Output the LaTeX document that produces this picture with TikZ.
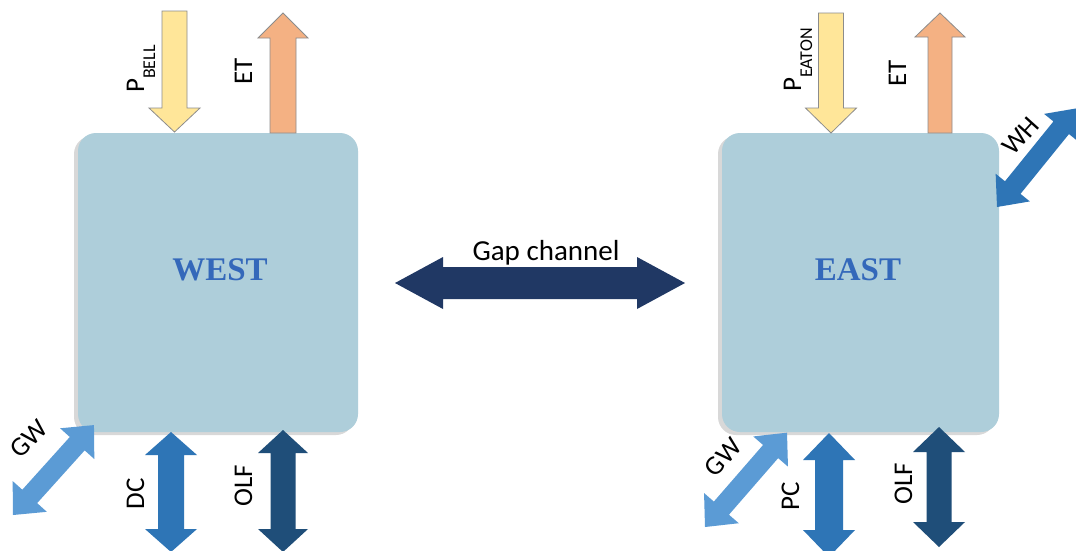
\documentclass[tikz,border=0pt]{standalone}
\usepackage{fontspec}
\setmainfont{Carlito}
\newfontfamily\boxfont{Liberation Serif}
\usetikzlibrary{shadows}
\definecolor{pyellow}{RGB}{255,230,153}
\definecolor{porange}{RGB}{244,177,131}
\definecolor{agray}{RGB}{140,140,140}
\definecolor{lblue}{RGB}{91,155,213}
\definecolor{mblue}{RGB}{46,117,182}
\definecolor{dblue}{RGB}{31,78,121}
\definecolor{navy}{RGB}{32,56,100}
\definecolor{boxfill}{RGB}{174,206,218}
\definecolor{boxtext}{RGB}{52,104,186}
% single block arrow: #1 tail point, #2 angle, #3 length, #4 shaft half width, #5 head half width, #6 head length, #7 style
\newcommand{\SArrow}[7]{\begin{scope}[shift={(#1)},rotate=#2]
\path[#7] (0,#4) -- ({#3-#6},#4) -- ({#3-#6},#5) -- (#3,0) -- ({#3-#6},-#5) -- ({#3-#6},-#4) -- (0,-#4) -- cycle;
\end{scope}}
% double block arrow: #1 first tip
\newcommand{\DArrow}[7]{\begin{scope}[shift={(#1)},rotate=#2]
\path[#7] (0,0) -- (#6,#5) -- (#6,#4) -- ({#3-#6},#4) -- ({#3-#6},#5) -- (#3,0) -- ({#3-#6},-#5) -- ({#3-#6},-#4) -- (#6,-#4) -- (#6,-#5) -- cycle;
\end{scope}}
\newcommand{\subsz}{\fontsize{18}{18}\selectfont}
\begin{document}
\begin{tikzpicture}[x=1pt,y=-1pt,
  lbl/.style={font=\fontsize{27}{32}\selectfont, inner sep=0pt},
  boxlbl/.style={font=\boxfont\bfseries\fontsize{33}{38}\selectfont, text=boxtext, inner sep=0pt},
  basin/.style={rounded corners=18pt, fill=boxfill, minimum width=280pt, minimum height=299pt, inner sep=0pt,
    drop shadow={shadow xshift=-4pt, shadow yshift=-3pt, opacity=0.3}},
  yarrow/.style={fill=pyellow, draw=agray, line width=0.8pt},
  oarrow/.style={fill=porange, draw=agray, line width=0.8pt}]
\clip (0,0) rectangle (1076,550);
\fill[white] (0,0) rectangle (1076,550);
% basins
\node[basin] (westbox) at (218,282.5) {};
\node[basin, minimum width=277pt] (eastbox) at (860.5,282.5) {};
\node[boxlbl] (westlbl) at (220,270) {WEST};
\node[boxlbl] (eastlbl) at (858,270) {EAST};
% top arrows
\SArrow{174.5,11}{-90}{121}{12.5}{25.5}{24}{yarrow}
\SArrow{283,133}{90}{120}{13}{25}{25}{oarrow}
\SArrow{831,13}{-90}{120}{12.5}{25.5}{25}{yarrow}
\SArrow{940,133}{90}{120}{12}{25}{24}{oarrow}
% gap channel
\DArrow{395,283}{0}{290}{16}{26}{48}{fill=navy}
% bottom / side arrows
\DArrow{13,515}{48}{121}{10}{23}{25}{fill=lblue}
\DArrow{171,552}{90}{120}{13}{26}{23}{fill=mblue}
\DArrow{283,552}{90}{122}{12.5}{25}{23}{fill=dblue}
\DArrow{705,527}{49}{125}{10}{23}{25}{fill=lblue}
\DArrow{829,557}{90}{124}{14}{26}{27}{fill=mblue}
\DArrow{939,547}{90}{120}{12.5}{26}{25}{fill=dblue}
\DArrow{997,207}{51}{127}{10}{22}{25}{fill=mblue}
% labels
\node[lbl, rotate=90, anchor=base] (pbell) at (144,69) {P\raisebox{-11pt}{\subsz BELL}};
\node[lbl, rotate=90, anchor=base] (etw) at (252,71) {ET};
\node[lbl, rotate=90, anchor=base] (peaton) at (801,60) {P\raisebox{-11pt}{\subsz EATON}};
\node[lbl, rotate=90, anchor=base] (ete) at (906,73) {ET};
\node[lbl, rotate=90, anchor=base] (dc) at (144,494) {DC};
\node[lbl, rotate=90, anchor=base] (olfw) at (252,486) {OLF};
\node[lbl, rotate=90, anchor=base] (pc) at (799,496) {PC};
\node[lbl, rotate=90, anchor=base] (olfe) at (912,484) {OLF};
\node[lbl, rotate=45] (gww) at (29,439) {GW};
\node[lbl, rotate=48] (gwe) at (723,457) {GW};
\node[lbl, rotate=48] (wh) at (1021,136) {WH};
\node[font=\fontsize{29}{34}\selectfont, inner sep=0pt, anchor=base] (gap) at (546,260) {Gap channel};
\end{tikzpicture}
\end{document}
